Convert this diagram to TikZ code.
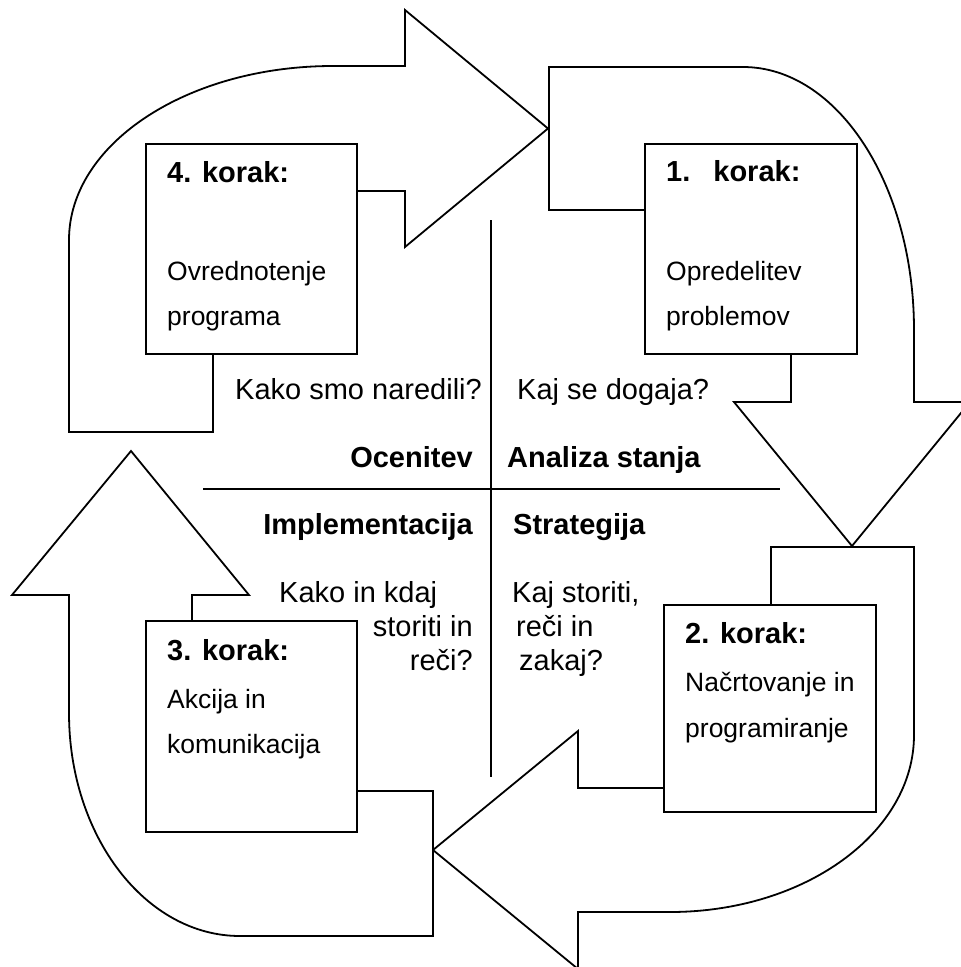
\documentclass[tikz,border=0pt]{standalone}
\usepackage{fontspec}
\setmainfont{Liberation Sans}
\begin{document}
\begin{tikzpicture}[x=1pt,y=-1pt,
  arrowshape/.style={draw=black, line width=1.8pt, fill=white, line join=miter},
  stepbox/.style={draw=black, line width=1.8pt, fill=white, rectangle, inner sep=0pt},
  lbl/.style={inner sep=0pt, font=\fontsize{29}{34}\selectfont},
  hdr/.style={inner sep=0pt, font=\fontsize{29}{34}\selectfont\bfseries},
  body/.style={inner sep=0pt, font=\fontsize{26.5}{32}\selectfont},
  axisline/.style={draw=black, line width=1.5pt}]
\useasboundingbox (0,0) rectangle (961,967);
\clip (0,0) rectangle (961,967);

% block arrows
\draw[arrowshape] (69,432) -- (213,432) -- (213,191) -- (405,191) -- (405,247) -- (548,128.5) -- (405,10) -- (405,66) -- (333,66) .. controls (187.2,66) and (69,143.9) .. (69,240) -- cycle;
\draw[arrowshape] (549,67) -- (549,210) -- (791,210) -- (791,402) -- (734,402) -- (852,546) -- (970,402) -- (914,402) -- (914,330) .. controls (914,184.7) and (837.4,67) .. (743,67) -- cycle;
\draw[arrowshape] (771,547) -- (914,547) -- (914,735) .. controls (914,832.8) and (804.8,912) .. (670,912) -- (578,912) -- (578,969) -- (433,850) -- (578,731) -- (578,788) -- (771,788) -- cycle;
\draw[arrowshape] (433,791) -- (433,936) -- (240,936) .. controls (145.6,936) and (69,836.2) .. (69,713) -- (69,595) -- (12,595) -- (131,451) -- (249,595) -- (192,595) -- (192,791) -- cycle;

% quadrant lines
\coordinate (vtop) at (491,220);
\coordinate (vbot) at (491,777);
\coordinate (hleft) at (203,489);
\coordinate (hright) at (780,489);
\draw[axisline] (vtop) -- (vbot);
\draw[axisline] (hleft) -- (hright);

% step boxes
\node[stepbox, minimum width=211pt, minimum height=210pt] (box4) at (251.5,249) {};
\node[stepbox, minimum width=212pt, minimum height=210pt] (box1) at (751,249) {};
\node[stepbox, minimum width=212pt, minimum height=207pt] (box2) at (770,708.5) {};
\node[stepbox, minimum width=211pt, minimum height=211pt] (box3) at (251.5,726.5) {};

% box texts
\node[hdr, anchor=base west] (h4) at (167,182) {4. korak:};
\node[body, anchor=base west] (b4a) at (167,280) {Ovrednotenje};
\node[body, anchor=base west] (b4b) at (167,325) {programa};

\node[hdr, anchor=base west] (h1) at (666,181) {1.\hspace{23pt}korak:};
\node[body, anchor=base west] (b1a) at (666,280) {Opredelitev};
\node[body, anchor=base west] (b1b) at (666,325) {problemov};

\node[hdr, anchor=base west] (h2) at (685,643) {2. korak:};
\node[body, anchor=base west] (b2a) at (685,691) {Načrtovanje in};
\node[body, anchor=base west] (b2b) at (685,737) {programiranje};

\node[hdr, anchor=base west] (h3) at (167,660) {3. korak:};
\node[body, anchor=base west] (b3a) at (167,708) {Akcija in};
\node[body, anchor=base west] (b3b) at (167,753) {komunikacija};

% quadrant labels
\node[lbl, anchor=base west] (q4) at (235,399) {Kako smo naredili?};
\node[lbl, anchor=base west] (q1) at (517,399) {Kaj se dogaja?};
\node[hdr, anchor=base east] (n4) at (473,467) {Ocenitev};
\node[hdr, anchor=base west] (n1) at (507,467) {Analiza stanja};
\node[hdr, anchor=base east] (n3) at (473,534) {Implementacija};
\node[hdr, anchor=base west] (n2) at (513,534) {Strategija};
\node[lbl, anchor=base west] (q3a) at (279,602) {Kako in kdaj};
\node[lbl, anchor=base east] (q3b) at (473,636) {storiti in};
\node[lbl, anchor=base east] (q3c) at (473,670) {reči?};
\node[lbl, anchor=base west] (q2a) at (512,602) {Kaj storiti,};
\node[lbl, anchor=base west] (q2b) at (516,636) {reči in};
\node[lbl, anchor=base west] (q2c) at (519,670) {zakaj?};
\end{tikzpicture}
\end{document}
